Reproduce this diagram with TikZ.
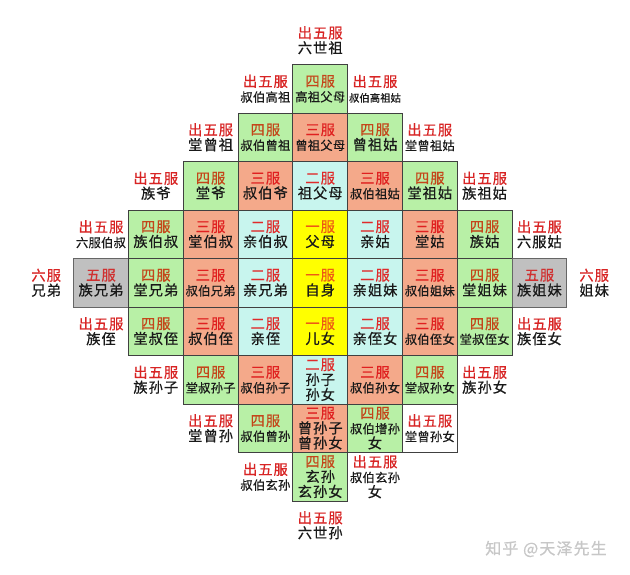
\documentclass[tikz,border=0pt]{standalone}
\usepackage{fontspec}
\setmainfont{Noto Sans CJK SC}[FakeBold=0.5, LetterSpace=7]

\definecolor{fu1}{HTML}{FFFF00}
\definecolor{fu2}{HTML}{C8F5EE}
\definecolor{fu3}{HTML}{F4A98A}
\definecolor{fu4}{HTML}{B8F0A6}
\definecolor{fu5}{HTML}{C0C0C0}
\definecolor{fu1h}{HTML}{EE5A14}
\definecolor{fu2h}{HTML}{E02A2A}
\definecolor{fu3h}{HTML}{E02020}
\definecolor{fu4h}{HTML}{C4461A}
\definecolor{fu5h}{HTML}{D03030}
\definecolor{beyondh}{HTML}{D82424}
\definecolor{beyondboxh}{HTML}{D82424}
\definecolor{sixfuh}{HTML}{D82424}

\newcommand\four{\fontsize{12.3}{15}\selectfont\addfontfeature{LetterSpace=2}}
\newcommand\five{\fontsize{10.3}{15}\selectfont\addfontfeature{LetterSpace=1}}

\begin{document}
\begin{tikzpicture}[x=1pt, y=1pt,
    free/.style={minimum width=54.8pt, minimum height=48.5pt, inner sep=0pt, align=center,
      text=black!90, font=\fontsize{14.3}{15}\selectfont},
    cell/.style={free, draw=black!75, line width=0.8pt},
    fu1/.style={cell, fill=fu1},
    fu2/.style={cell, fill=fu2},
    fu3/.style={cell, fill=fu3},
    fu4/.style={cell, fill=fu4},
    fu5/.style={cell, fill=fu5, draw=black!60},
    beyond/.style={free},
    beyondbox/.style={cell, fill=white},
    sixfu/.style={free},
    sign/.style={text=black!22, font=\fontsize{16}{18}\selectfont}]
  \fill[white] (0, 0) rectangle (630, -575); % page
  \foreach \c/\r/\k/\h/\b in {
      0/-5/beyond/出五服/六世祖,
      -1/-4/beyond/出五服/{\four 叔伯高祖}, 0/-4/fu4/四服/{\four 高祖父母}, 1/-4/beyond/出五服/{\five 叔伯高祖姑},
      -2/-3/beyond/出五服/堂曾祖, -1/-3/fu4/四服/{\four 叔伯曾祖}, 0/-3/fu3/三服/{\four 曾祖父母},
      1/-3/fu4/四服/曾祖姑, 2/-3/beyond/出五服/{\four 堂曾祖姑},
      -3/-2/beyond/出五服/族爷, -2/-2/fu4/四服/堂爷, -1/-2/fu3/三服/叔伯爷, 0/-2/fu2/二服/祖父母,
      1/-2/fu3/三服/{\four 叔伯祖姑}, 2/-2/fu4/四服/堂祖姑, 3/-2/beyond/出五服/族祖姑,
      -4/-1/beyond/出五服/{\four 六服伯叔}, -3/-1/fu4/四服/族伯叔, -2/-1/fu3/三服/堂伯叔, -1/-1/fu2/二服/亲伯叔,
      0/-1/fu1/一服/父母, 1/-1/fu2/二服/亲姑, 2/-1/fu3/三服/堂姑, 3/-1/fu4/四服/族姑, 4/-1/beyond/出五服/六服姑,
      -5/0/sixfu/六服/兄弟, -4/0/fu5/五服/族兄弟, -3/0/fu4/四服/堂兄弟, -2/0/fu3/三服/{\four 叔伯兄弟},
      -1/0/fu2/二服/亲兄弟, 0/0/fu1/一服/自身, 1/0/fu2/二服/亲姐妹, 2/0/fu3/三服/{\four 叔伯姐妹},
      3/0/fu4/四服/堂姐妹, 4/0/fu5/五服/族姐妹, 5/0/sixfu/六服/姐妹,
      -4/1/beyond/出五服/族侄, -3/1/fu4/四服/堂叔侄, -2/1/fu3/三服/叔伯侄, -1/1/fu2/二服/亲侄,
      0/1/fu1/一服/儿女, 1/1/fu2/二服/亲侄女, 2/1/fu3/三服/{\four 叔伯侄女}, 3/1/fu4/四服/{\four 堂叔侄女},
      4/1/beyond/出五服/族侄女,
      -3/2/beyond/出五服/族孙子, -2/2/fu4/四服/{\four 堂叔孙子}, -1/2/fu3/三服/{\four 叔伯孙子},
      0/2/fu2/二服/孙子\\孙女, 1/2/fu3/三服/{\four 叔伯孙女}, 2/2/fu4/四服/{\four 堂叔孙女}, 3/2/beyond/出五服/族孙女,
      -2/3/beyond/出五服/堂曾孙, -1/3/fu4/四服/{\four 叔伯曾孙}, 0/3/fu3/三服/曾孙子\\曾孙女,
      1/3/fu4/四服/{\four 叔伯增孙}\\女, 2/3/beyondbox/出五服/{\four 堂曾孙女},
      -1/4/beyond/出五服/{\four 叔伯玄孙}, 0/4/fu4/四服/玄孙\\玄孙女, 1/4/beyond/出五服/{\four 叔伯玄孙}\\女,
      0/5/beyond/出五服/六世孙}
    \node[\k] (n\c_\r) at ({320.2+54.8*\c}, {-282.75-48.5*\r}) {\textcolor{\k h}{\h}\\\b}; % one relative
  \node[sign] (zhihu) at (546, -549) {知乎 @天泽先生}; % watermark
\end{tikzpicture}
\end{document}
